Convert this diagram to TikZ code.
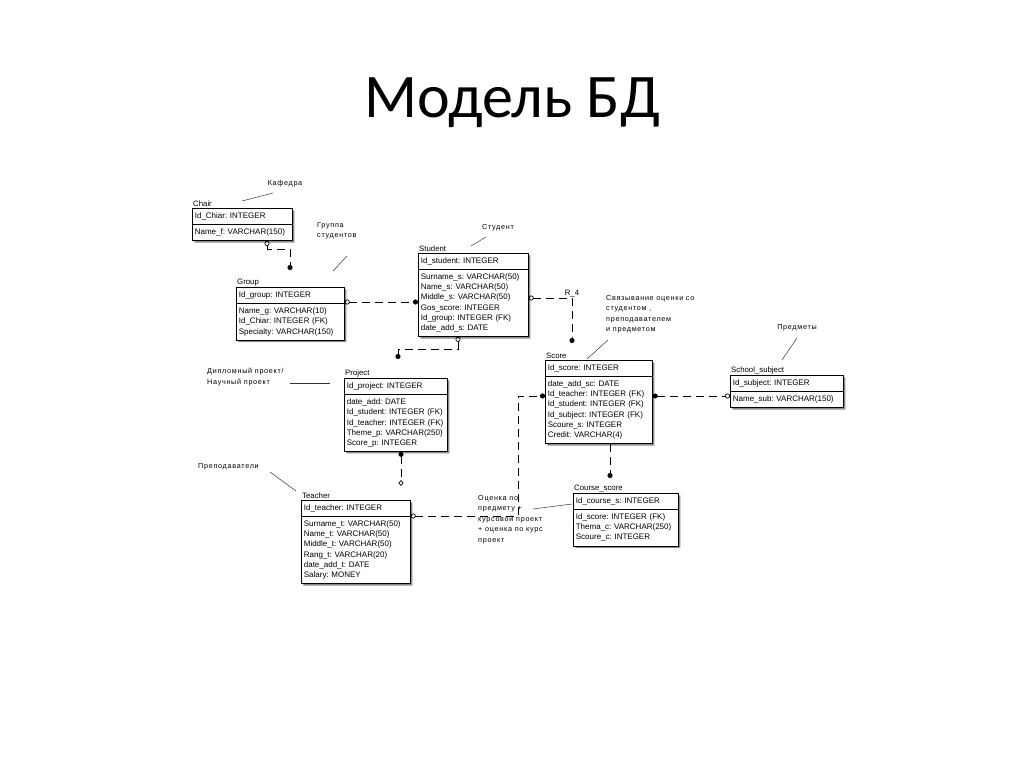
\documentclass[tikz,border=0pt]{standalone}
\usepackage{fontspec}
\setmainfont{Liberation Sans}
\newfontfamily\titlefont{Carlito}
\newfontfamily\notefont[LetterSpace=10]{Liberation Sans}
\usetikzlibrary{arrows.meta, shapes.multipart, shadows, positioning}
\frenchspacing

\tikzset{
  entity/.style={rectangle split, rectangle split parts=2, draw=black,
        line width=0.7pt, fill=white, anchor=north west,
        inner xsep=2.5pt, inner ysep=4pt, align=left,
        font=\fontsize{8}{10.2}\selectfont,
        drop shadow={shadow xshift=2pt, shadow yshift=-2pt,
                     fill=black!45, opacity=1}},
  entname/.style={anchor=south west, inner sep=1pt,
        font=\fontsize{7.8}{9}\selectfont},
  fk/.style={line width=0.7pt, dash pattern=on 8pt off 5pt},
  notetext/.style={inner sep=0pt, align=left,
        font=\notefont\fontsize{7.2}{10.5}\selectfont},
  noteline/.style={line width=0.5pt, black!80},
}

\begin{document}
\begin{tikzpicture}[x=1pt, y=-1pt]
  \useasboundingbox (0,0) rectangle (1024,767);

  % title
  \node[anchor=base, font=\titlefont\fontsize{62}{70}\selectfont]
        (title) at (512,118) {Модель БД};

  % entities
  \node[entity, text width=95pt, label={[entname]north west:Chair}]
        (chair) at (192,208)
        {Id\_Chiar: INTEGER \nodepart{two} Name\_f: VARCHAR(150)};
  \node[entity, text width=103pt, label={[entname]north west:Group}]
        (group) at (236,287)
        {Id\_group: INTEGER \nodepart{two} Name\_g: VARCHAR(10)\\
         Id\_Chiar: INTEGER (FK)\\ Specialty: VARCHAR(150)};
  \node[entity, text width=105pt, label={[entname]north west:Student}]
        (student) at (418,253)
        {Id\_student: INTEGER \nodepart{two} Surname\_s: VARCHAR(50)\\
         Name\_s: VARCHAR(50)\\ Middle\_s: VARCHAR(50)\\
         Gos\_score: INTEGER\\ Id\_group: INTEGER (FK)\\
         date\_add\_s: DATE};
  \node[entity, text width=98pt, label={[entname]north west:Project}]
        (project) at (344,378)
        {Id\_project: INTEGER \nodepart{two} date\_add: DATE\\
         Id\_student: INTEGER (FK)\\ Id\_teacher: INTEGER (FK)\\
         Theme\_p: VARCHAR(250)\\ Score\_p: INTEGER};
  \node[entity, text width=102pt, label={[entname]north west:Score}]
        (score) at (545,360)
        {Id\_score: INTEGER \nodepart{two} date\_add\_sc: DATE\\
         Id\_teacher: INTEGER (FK)\\ Id\_student: INTEGER (FK)\\
         Id\_subject: INTEGER (FK)\\ Scoure\_s: INTEGER\\
         Credit: VARCHAR(4)};
  \node[entity, text width=108pt, label={[entname]north west:School\_subject}]
        (school) at (730,375)
        {Id\_subject: INTEGER \nodepart{two} Name\_sub: VARCHAR(150)};
  \node[entity, text width=104pt, label={[entname]north west:Teacher}]
        (teacher) at (301,500)
        {Id\_teacher: INTEGER \nodepart{two} Surname\_t: VARCHAR(50)\\
         Name\_t: VARCHAR(50)\\ Middle\_t: VARCHAR(50)\\
         Rang\_t: VARCHAR(20)\\ date\_add\_t: DATE\\ Salary: MONEY};
  \node[entity, text width=100pt, label={[entname]north west:Course\_score}]
        (course) at (573,493)
        {Id\_course\_s: INTEGER \nodepart{two} Id\_score: INTEGER (FK)\\
         Thema\_c: VARCHAR(250)\\ Scoure\_c: INTEGER};

  % free ends of relations
  \coordinate (grpin) at (290,270);
  \coordinate (prjin) at (398,359);
  \coordinate (scrin) at (572,343);
  \coordinate (tchin) at (401,486);
  \coordinate (crsin) at (610,478);
  \coordinate (bend) at (518,396);

  % relations
  \draw[fk, {Circle[open,length=5pt]}-{Circle[length=5pt]}]
        ([xshift=75pt]chair.south west) -- ++(0,8) -| (grpin);
  \draw[fk, {Circle[open,length=5pt]}-{Circle[length=5pt]}]
        (group.east |- 0,302) -- (student.west |- 0,302);
  \draw[fk, {Circle[open,length=5pt]}-{Circle[length=5pt]}]
        (student.east |- 0,298) -| node[pos=0.5, entname, anchor=south]
        (r4) {R\_4} (scrin);
  \draw[fk, {Circle[open,length=5pt]}-{Circle[length=5pt]}]
        ([xshift=40pt]student.south west) -- ++(0,12) -| (prjin);
  \draw[fk, {Circle[length=5pt]}-{Diamond[open,length=6pt,width=5pt]}]
        ([xshift=57pt]project.south west) -- (tchin);
  \draw[fk, {Circle[open,length=5pt]}-{Circle[length=5pt]}]
        (teacher.east |- 0,516) -| (bend) -- (score.west |- bend);
  \draw[fk, {Circle[length=5pt]}-{Circle[open,length=5pt]}]
        (score.east |- 0,396) -- (school.west |- 0,396);
  \draw[fk, -{Circle[length=5pt]}]
        ([xshift=65pt]score.south west) -- (crsin);

  % notes
  \node[notetext, anchor=center] (n-kaf) at (285,184) {Кафедра};
  \node[notetext, anchor=north west] (n-grp) at (317,222) {Группа\\студентов};
  \node[notetext, anchor=center] (n-std) at (498,228) {Студент};
  \node[notetext, anchor=north west] (n-scr) at (606,295)
        {Связывание оценки со\\студентом ,\\преподавателем\\и предметом};
  \node[notetext, anchor=center] (n-sub) at (797,328) {Предметы};
  \node[notetext, anchor=north west] (n-prj) at (207,368)
        {Дипломный проект/\\Научный проект};
  \node[notetext, anchor=west] (n-tch) at (198,467) {Преподаватели};
  \node[notetext, anchor=north west] (n-crs) at (478,495)
        {Оценка по\\предмету +\\курсовой проект\\+ оценка по курс\\проект};

  \coordinate (kaf-a) at (242,201); \coordinate (kaf-b) at (273,193);
  \coordinate (grp-a) at (333,271); \coordinate (grp-b) at (347,256);
  \coordinate (std-a) at (471,246); \coordinate (std-b) at (486,237);
  \coordinate (scr-a) at (587,359); \coordinate (scr-b) at (608,340);
  \coordinate (sub-a) at (782,360); \coordinate (sub-b) at (797,338);
  \coordinate (prj-a) at (290,383); \coordinate (prj-b) at (330,383);
  \coordinate (tch-a) at (270,472); \coordinate (tch-b) at (296,491);
  \coordinate (crs-a) at (533,509); \coordinate (crs-b) at (572,504);
  \foreach \n in {kaf, grp, std, scr, sub, prj, tch, crs}
    \draw[noteline] (\n-a) -- (\n-b);
\end{tikzpicture}
\end{document}
